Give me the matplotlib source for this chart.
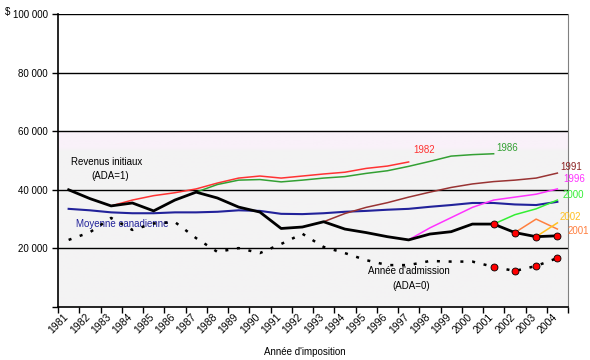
import numpy as np
import matplotlib.pyplot as plt
import matplotlib.transforms as mtransforms
from matplotlib.colors import LinearSegmentedColormap

plt.rcParams['font.family'] = ['Liberation Sans', 'DejaVu Sans']

annees = [str(a) for a in range(1981, 2005)]

# revenus des immigrants, premiere annee apres admission (ADA=1)
ada1 = [40000, 37000, 34500, 35500, 32800, 36500, 39200, 37200, 34100, 32400, 26800, 27300,
        29100, 26600, 25400, 24000, 22900, 24900, 25700, 28300, 28300, 25400, 24000, 24300]
# annee d'admission (ADA=0)
ada0 = [22900, 25500, 30400, 26300, 28500, 29000, 23500, 18800, 20100, 18400, 21500, 25000,
        20500, 18400, 16000, 14300, 14300, 15700, 15500, 15500, 13700, 12300, 14000, 16700]
moyenne = [33500, 33000, 32300, 32000, 32000, 32300, 32300, 32500, 33000, 32800, 31800, 31700,
           32000, 32500, 32800, 33200, 33500, 34200, 34800, 35500, 35500, 35000, 34800, 35900]

# cohortes d'immigrants
c1982 = [34500, 36500, 38000, 39000, 40300, 42300, 44000, 44700, 44000, 44700, 45400, 46000,
         47300, 48100, 49500]
c1986 = [39200, 41800, 43300, 43500, 42700, 43300, 44000, 44500, 45600, 46500, 48000, 49700,
         51500, 52000, 52300]
c1991 = [29100, 31900, 34000, 35600, 37500, 39200, 40800, 42000, 42800, 43300, 44000, 45700]
c1996 = [22900, 27000, 30500, 34000, 36500, 37500, 38500, 40300]
c2000 = [28300, 31500, 33500, 36500]
c2001 = [25400, 30000, 26600]
c2002 = [24000, 28700]

# (nom, premiere annee tracee, valeurs, couleur)
cohortes = [
    ('1982', 1983, c1982, '#ff3333'),
    ('1986', 1987, c1986, '#33a033'),
    ('1991', 1993, c1991, '#993333'),
    ('1996', 1997, c1996, '#ff33ff'),
    ('2000', 2001, c2000, '#33ee33'),
    ('2001', 2002, c2001, '#ff7f3f'),
    ('2002', 2003, c2002, '#ffc020'),
]

fig = plt.figure(figsize=(5.9, 3.6), dpi=100)
ax = fig.add_axes([58/590, 1 - 307/360, 510/590, 293/360])

x = np.arange(len(annees))
ax.set_xlim(-0.5, len(annees) - 0.5)
ax.set_ylim(0, 100000)

# fond
cmap = LinearSegmentedColormap.from_list('fond', [(0, '#f3f3f3'), (0.535, '#f4f3f4'),
                                                   (0.545, '#f9f1f9'), (0.598, '#f9f1f9'),
                                                   (0.602, '#ffffff'), (1, '#ffffff')])
grad = np.linspace(0, 1, 512).reshape(-1, 1)
ax.imshow(grad, aspect='auto', cmap=cmap, origin='lower',
          extent=[-0.5, len(annees) - 0.5, 0, 100000], zorder=0)

for v in [20000, 40000, 60000, 80000, 100000]:
    ax.axhline(v, color='black', lw=1, zorder=1)

ax.plot(x, moyenne, color='#22229a', lw=1.5, zorder=3)
for nom, debut, vals, col in cohortes:
    i0 = debut - 1981
    ax.plot(x[i0:i0 + len(vals)], vals, color=col, lw=1.1, zorder=3)
ax.plot(x, ada1, color='black', lw=2, zorder=4)
ax.plot(x, ada0, color='black', lw=1.8, ls=(0, (1.2, 3.5)), zorder=4)
ax.plot(x[20:], ada1[20:], 'o', ms=5, mfc='#ff0000', mec='black', mew=0.6, zorder=5)
ax.plot(x[20:], ada0[20:], 'o', ms=5, mfc='#ff0000', mec='black', mew=0.6, zorder=5)

# etiquettes
fs = 7
ax.text(16.2, 53600, '1982', color='#ff3333', fontsize=fs, ha='left', va='center')
ax.text(20.15, 54300, '1986', color='#33a033', fontsize=fs, ha='left', va='center')
etiq_droite = [('1991', 23.15, 47800, '#8b2323'), ('1996', 23.3, 43700, '#ff33ff'),
               ('2000', 23.25, 38200, '#33ee33'), ('2002', 23.1, 30700, '#ffc020'),
               ('2001', 23.5, 25900, '#ff7f3f')]
for t, xv, yv, col in etiq_droite:
    ax.text(xv, yv, t, color=col, fontsize=fs, ha='left', va='center', clip_on=False, zorder=6)
ax.text(1.8, 49500, 'Revenus initiaux', fontsize=fs, ha='center', va='center')
ax.text(1.95, 44700, '(ADA=1)', fontsize=fs, ha='center', va='center')
ax.text(2.5, 28300, 'Moyenne canadienne', color='#22229a', fontsize=fs, ha='center', va='center')
ax.text(16.0, 12300, "Année d'admission", fontsize=fs, ha='center', va='center')
ax.text(16.1, 7300, '(ADA=0)', fontsize=fs, ha='center', va='center')
fig.text(5/590, 1 - 12/360, '$', fontsize=fs, ha='left', va='center')
fig.text(305/590, 1 - 352/360, "Année d'imposition", fontsize=fs, ha='center', va='center')

ax.set_yticks([0, 20000, 40000, 60000, 80000, 100000])
ax.set_yticklabels(['', '20 000', '40 000', '60 000', '80 000', '100 000'], fontsize=fs)
ax.set_xticks(np.arange(-0.5, len(annees)), labels=[])
ax.set_xticks(x, labels=annees, minor=True)
ax.tick_params(axis='x', which='minor', length=0, labelsize=7.5, pad=0)
decal = mtransforms.ScaledTranslation(-5/100, -5/100, fig.dpi_scale_trans)
for lab in ax.get_xticklabels(minor=True):
    lab.set_rotation(45)
    lab.set_ha('right')
    lab.set_va('top')
    lab.set_rotation_mode('anchor')
    lab.set_transform(lab.get_transform() + decal)
ax.tick_params(axis='both', which='major', length=4, direction='out', width=1)

ax.spines['top'].set_visible(False)
ax.spines['right'].set_color('#808080')
ax.spines['left'].set_linewidth(1.2)
ax.spines['bottom'].set_linewidth(1.2)

fig.savefig('out.png', dpi=100)
